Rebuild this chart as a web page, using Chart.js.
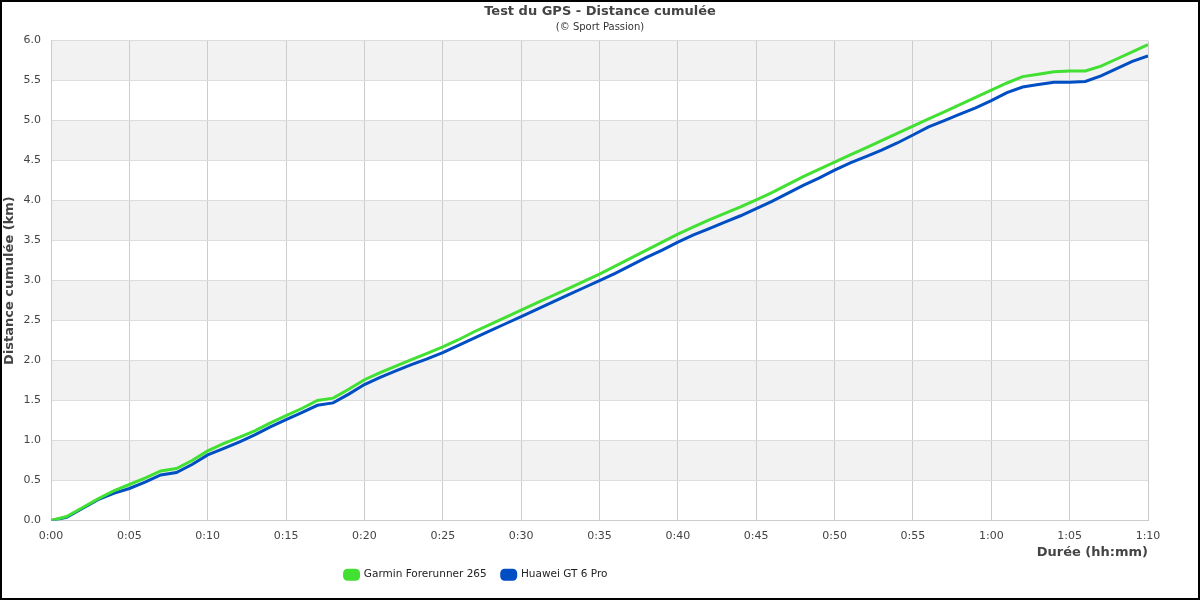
<!DOCTYPE html>
<html>
<head>
<meta charset="utf-8">
<script src="https://cdn.jsdelivr.net/npm/chart.js@4"></script>
<style>
  body { margin: 0; background: #fff; }
  #wrap { width: 1200px; height: 600px; }
</style>
</head>
<body>
<div id="wrap"><canvas id="chart"></canvas></div>
<script>
// minutes since start
const minutes = [0, 1, 2, 3, 4, 5, 6, 7, 8, 9, 10, 11, 12, 13, 14, 15, 16, 17, 18, 19, 20,
  21, 22, 23, 24, 25, 26, 27, 28, 29, 30, 31, 32, 33, 34, 35, 36, 37, 38, 39, 40,
  41, 42, 43, 44, 45, 46, 47, 48, 49, 50, 51, 52, 53, 54, 55, 56, 57, 58, 59, 60,
  61, 62, 63, 64, 65, 66, 67, 68, 69, 70];
// distance in km
const garmin = [0, 0.05, 0.16, 0.27, 0.37, 0.45, 0.53, 0.62, 0.65, 0.75, 0.87,
  0.96, 1.04, 1.12, 1.22, 1.31, 1.40, 1.50, 1.53, 1.64, 1.76,
  1.85, 1.93, 2.01, 2.09, 2.17, 2.26, 2.36, 2.45, 2.54, 2.63,
  2.72, 2.81, 2.90, 2.99, 3.08, 3.18, 3.28, 3.38, 3.48, 3.58,
  3.67, 3.76, 3.84, 3.92, 4.01, 4.10, 4.20, 4.30, 4.39, 4.48,
  4.57, 4.66, 4.75, 4.84, 4.93, 5.02, 5.11, 5.20, 5.29, 5.38,
  5.47, 5.55, 5.58, 5.61, 5.62, 5.62, 5.68, 5.77, 5.86, 5.95];
const huawei = [0, 0.04, 0.15, 0.26, 0.34, 0.40, 0.48, 0.57, 0.60, 0.70, 0.82,
  0.90, 0.98, 1.07, 1.17, 1.26, 1.35, 1.44, 1.47, 1.58, 1.70,
  1.79, 1.87, 1.95, 2.02, 2.10, 2.19, 2.28, 2.37, 2.46, 2.55,
  2.64, 2.73, 2.82, 2.91, 3.00, 3.09, 3.19, 3.29, 3.38, 3.48,
  3.57, 3.65, 3.73, 3.81, 3.90, 3.99, 4.09, 4.19, 4.28, 4.38,
  4.47, 4.55, 4.63, 4.72, 4.82, 4.92, 5.00, 5.08, 5.16, 5.25,
  5.35, 5.42, 5.45, 5.48, 5.48, 5.49, 5.56, 5.65, 5.74, 5.81];
const seriesNames = ["Garmin Forerunner 265", "Huawei GT 6 Pro"];

function fmtTime(m) {
  const h = Math.floor(m / 60);
  const mm = m % 60;
  return h + ":" + (mm < 10 ? "0" : "") + mm;
}

Chart.defaults.font.family = "DejaVu Sans";
Chart.defaults.color = "#333";

// white background, grey bands, black frame
const bgPlugin = {
  id: "bg",
  beforeDraw(chart) {
    const c = chart.ctx;
    const y = chart.scales.y;
    const a = chart.chartArea;
    c.save();
    c.fillStyle = "#fff";
    c.fillRect(0, 0, chart.width, chart.height);
    c.fillStyle = "#f2f2f2";
    for (let i = 1; i < 12; i += 2) {
      const top = y.getPixelForValue((i + 1) * 0.5);
      const bot = y.getPixelForValue(i * 0.5);
      c.fillRect(a.left, top, a.right - a.left, bot - top);
    }
    c.restore();
  },
  afterDraw(chart) {
    const c = chart.ctx;
    c.save();
    c.strokeStyle = "#000";
    c.lineWidth = 2;
    c.strokeRect(1, 1, chart.width - 2, chart.height - 2);
    c.restore();
  },
  afterLayout(chart) {
    // legend sits left of center and a bit higher in the original
    const lg = chart.legend;
    lg.left = 0;
    lg.right = 952;
    lg.width = 952;
    lg.top -= 10;
    lg.bottom -= 10;
  },
};

new Chart(document.getElementById("chart"), {
  type: "line",
  data: {
    datasets: [
      {
        label: seriesNames[0],
        data: minutes.map((m, i) => ({ x: m, y: garmin[i] })),
        borderColor: "#42e032",
        backgroundColor: "#42e032",
        borderWidth: 3,
        pointRadius: 0,
        tension: 0,
      },
      {
        label: seriesNames[1],
        data: minutes.map((m, i) => ({ x: m, y: huawei[i] })),
        borderColor: "#004ec4",
        backgroundColor: "#004ec4",
        borderWidth: 3,
        pointRadius: 0,
        tension: 0,
      },
    ],
  },
  options: {
    responsive: true,
    maintainAspectRatio: false,
    animation: false,
    layout: { padding: 0 },
    plugins: {
      title: {
        display: true,
        text: "Test du GPS - Distance cumulée",
        color: "#444",
        font: { size: 13, weight: "bold" },
        padding: { top: 4, bottom: 0 },
      },
      subtitle: {
        display: true,
        text: "(© Sport Passion)",
        color: "#333",
        font: { size: 10 },
        padding: { top: 2, bottom: 7 },
      },
      legend: {
        position: "bottom",
        labels: {
          boxWidth: 14,
          boxHeight: 9,
          padding: 15,
          color: "#222",
          font: { size: 10.5 },
          useBorderRadius: true,
          borderRadius: 3,
        },
      },
      tooltip: { enabled: false },
    },
    scales: {
      x: {
        type: "linear",
        min: 0,
        max: 70,
        ticks: {
          stepSize: 5,
          padding: 9,
          color: "#444",
          font: { size: 11 },
          callback: (v) => fmtTime(v),
        },
        grid: { color: "#cccccc", drawTicks: false },
        border: { color: "#cccccc" },
        title: {
          display: true,
          text: "Durée (hh:mm)",
          align: "end",
          color: "#444",
          font: { size: 13, weight: "bold" },
          padding: { top: 2, bottom: 4 },
        },
        afterFit: (s) => { s.height = 44; },
      },
      y: {
        min: 0,
        max: 6,
        ticks: {
          stepSize: 0.5,
          padding: 10,
          color: "#444",
          font: { size: 11 },
          callback: (v) => v.toFixed(1),
        },
        grid: { color: "#dddddd", drawTicks: false },
        border: { color: "#cccccc" },
        title: {
          display: true,
          text: "Distance cumulée (km)",
          color: "#444",
          font: { size: 13, weight: "bold" },
          padding: { top: 2, bottom: 0 },
        },
        afterFit: (s) => { s.width = 51; },
      },
      // empty right margin
      yRight: {
        position: "right",
        min: 0,
        max: 6,
        ticks: { display: false },
        grid: { display: false, drawTicks: false },
        border: { display: false },
        afterFit: (s) => { s.width = 52; },
      },
    },
  },
  plugins: [bgPlugin],
});
</script>
</body>
</html>
